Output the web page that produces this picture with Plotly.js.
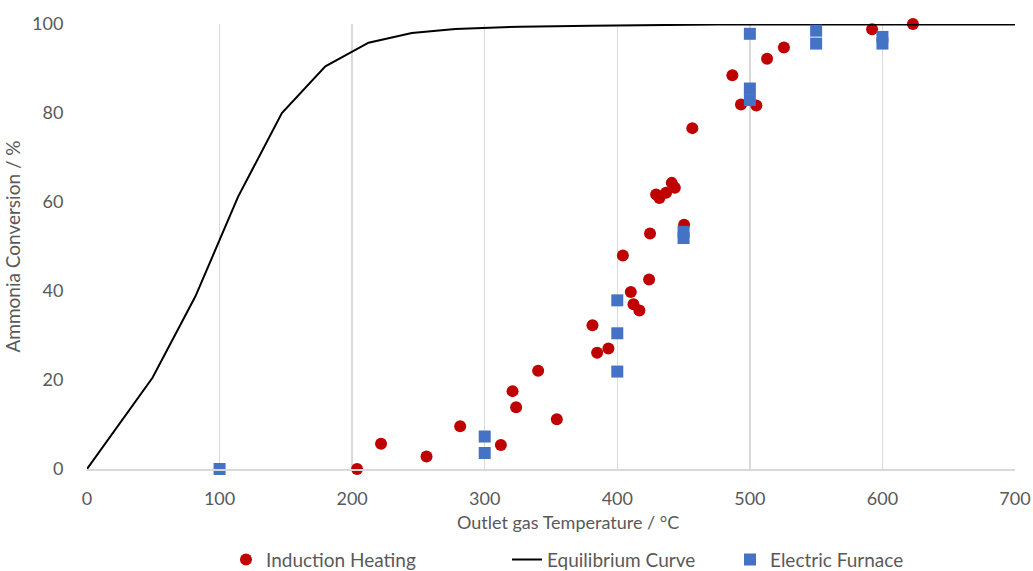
<!DOCTYPE html>
<html>
<head>
<meta charset="utf-8">
<script src="https://cdn.plot.ly/plotly-3.0.1.min.js"></script>
<style>html,body{margin:0;padding:0;background:#fff;}#chart{width:1033px;height:571px;}</style>
</head>
<body>
<div id="chart"></div>
<script>
// Induction Heating data
const inductionT = [203.7, 221.8, 256.1, 281.5, 312.2, 321.0, 323.7, 340.3, 354.4, 381.3, 384.8, 393.3,
  404.2, 410.2, 412.2, 416.7, 424.0, 424.7, 429.3, 431.8, 436.8, 441.1, 443.4, 450.4,
  456.6, 486.8, 493.3, 504.9, 513.0, 525.7, 592.2, 623.0];
const inductionConv = [0, 5.7, 2.8, 9.6, 5.4, 17.5, 13.9, 22.1, 11.2, 32.3, 26.1, 27.1,
  48.0, 39.8, 37.0, 35.6, 42.6, 52.9, 61.7, 60.9, 62.1, 64.3, 63.2, 54.9,
  76.6, 88.5, 81.9, 81.7, 92.2, 94.7, 98.8, 100.0];

// Equilibrium curve
const eqT = [0, 49.4, 81.8, 114, 147, 179.8, 212.4, 245, 277.8, 326.7, 380, 475, 700];
const eqConv = [0, 20.5, 38.8, 61.2, 80.0, 90.5, 95.8, 98.0, 98.9, 99.4, 99.6, 99.9, 99.9];

// Electric Furnace data
const furnaceT = [100, 300, 300, 400, 400, 400, 450, 450, 500, 500, 500, 550, 550, 600, 600];
const furnaceConv = [0, 7.3, 3.6, 37.9, 30.5, 21.9, 53.3, 51.9, 97.8, 85.5, 82.9, 98.5, 95.6, 97.1, 95.6];

// Axis ticks and titles
const xTicks = [0, 100, 200, 300, 400, 500, 600, 700];
const yTicks = [0, 20, 40, 60, 80, 100];
const xTitle = 'Outlet gas Temperature / °C';
const yTitle = 'Ammonia Conversion / %';

const fontFam = 'Lato, "Open Sans", sans-serif';
const txt = '#595959';

const traces = [
  {x: inductionT, y: inductionConv, type: 'scatter', mode: 'markers', name: 'Induction Heating',
   marker: {color: '#c00000', size: 12, symbol: 'circle'}, cliponaxis: false, legend: 'legend'},
  {x: eqT, y: eqConv, type: 'scatter', mode: 'lines', name: 'Equilibrium Curve',
   line: {color: '#000000', width: 2}, cliponaxis: false, legend: 'legend2'},
  {x: furnaceT, y: furnaceConv, type: 'scatter', mode: 'markers', name: 'Electric Furnace',
   marker: {color: '#4472c4', size: 12, symbol: 'square'}, cliponaxis: false, legend: 'legend3'}
];

const legFont = {family: fontFam, size: 19, color: txt};
const legBase = {orientation: 'h', xref: 'container', yref: 'container', yanchor: 'middle', y: 0.02,
  xanchor: 'left', font: legFont, bgcolor: 'rgba(0,0,0,0)', borderwidth: 0};

const layout = {
  width: 1033, height: 571,
  margin: {l: 87, r: 18, t: 24, b: 102},
  paper_bgcolor: '#ffffff', plot_bgcolor: '#ffffff',
  font: {family: fontFam, color: txt, size: 18},
  showlegend: true,
  legend: Object.assign({}, legBase, {x: 226 / 1033}),
  legend2: Object.assign({}, legBase, {x: 507 / 1033}),
  legend3: Object.assign({}, legBase, {x: 730 / 1033}),
  xaxis: {
    range: [0, 700], tickvals: xTicks, ticktext: xTicks.map(String), automargin: false,
    showgrid: true, gridcolor: '#d9d9d9', gridwidth: 1.5,
    zeroline: false, showline: true, linecolor: '#d9d9d9', linewidth: 1.5,
    ticks: 'outside', ticklen: 13, tickcolor: 'rgba(0,0,0,0)',
    tickfont: {family: fontFam, size: 18, color: txt}
  },
  yaxis: {
    range: [0, 100], tickvals: yTicks, ticktext: yTicks.map(String), automargin: false,
    showgrid: false, zeroline: false, showline: false,
    ticks: 'outside', ticklen: 19, tickcolor: 'rgba(0,0,0,0)',
    tickfont: {family: fontFam, size: 18, color: txt},
    title: {text: yTitle, font: {family: fontFam, size: 19, color: txt}, standoff: 6}
  },
  annotations: [
    {text: xTitle, xref: 'paper', yref: 'paper', x: (568 - 87) / 928, y: (469 - 522) / 445,
     xanchor: 'center', yanchor: 'middle', showarrow: false,
     font: {family: fontFam, size: 18, color: txt}}
  ]
};

Plotly.newPlot('chart', traces, layout, {displayModeBar: false, staticPlot: true});
</script>
</body>
</html>
